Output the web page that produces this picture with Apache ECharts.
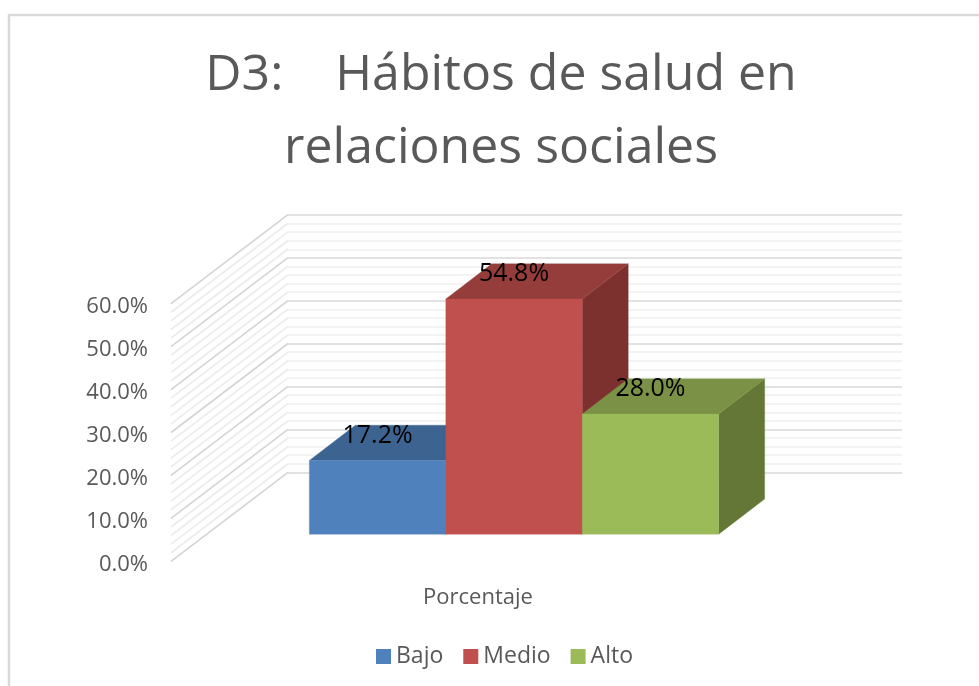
<!DOCTYPE html>
<html>
<head>
<meta charset="utf-8">
<style>html,body{margin:0;padding:0;background:#fff}#c{width:979px;height:686px}</style>
<script src="https://cdn.jsdelivr.net/npm/echarts@6/dist/echarts.min.js"></script>
</head>
<body>
<div id="c"></div>
<script>
const categories = ["Porcentaje"];
const seriesNames = ["Bajo", "Medio", "Alto"];
const bajo = [17.2];
const medio = [54.8];
const alto = [28.0];
const wallTicks = [0,2,4,6,8,10,12,14,16,18,20,22,24,26,28,30,32,34,36,38,40,42,44,46,48,50,52,54,56,58,60];

const FONT = '"Open Sans", sans-serif';
const TEXT = '#595959';
const faces = [
  {front:'#4f81bd', top:'#3d6491', side:'#345578'},
  {front:'#c0504d', top:'#953d3b', side:'#7d312f'},
  {front:'#9bbb59', top:'#7a9146', side:'#647736'}
];
// projection of depth in pixels
const GAP = [36, -27], BAR_DEPTH = [46, -35.3], WALL_DEPTH = [117, -89];
const BAR_FRACTION = 1 / 4.5;

function barItem(idx) {
  return function (params, api) {
    const cat = api.value(0), v = api.value(1);
    const top = api.coord([cat, v]);
    const base = api.coord([cat, 0]);
    const w = api.size([1, 0])[0] * BAR_FRACTION;
    const x0 = top[0] + GAP[0] + (idx - 1.5) * w;
    const x1 = x0 + w;
    const yT = top[1] + GAP[1];
    const yB = base[1] + GAP[1];
    const dx = BAR_DEPTH[0], dy = BAR_DEPTH[1];
    const c = faces[idx];
    const poly = (pts, fill) => ({type:'polygon', shape:{points:pts}, style:{fill:fill, stroke:fill, lineWidth:0.3}});
    return {
      type:'group',
      children:[
        poly([[x1,yT],[x1+dx,yT+dy],[x1+dx,yB+dy],[x1,yB]], c.side),
        poly([[x0,yT],[x1,yT],[x1+dx,yT+dy],[x0+dx,yT+dy]], c.top),
        poly([[x0,yT],[x1,yT],[x1,yB],[x0,yB]], c.front),
        {type:'text', z2:50, style:{x:(x0+x1)/2, y:yT-25, text:v.toFixed(1)+'%', fill:'#000', font:'25px '+FONT, align:'center', verticalAlign:'middle'}}
      ]
    };
  };
}

function barSeries(name, values, idx) {
  return {
    name:name, type:'custom', xAxisIndex:0, yAxisIndex:0, z:5+idx,
    itemStyle:{color:faces[idx].front},
    encode:{x:0, y:1},
    data:values.map((v,i)=>[i,v]),
    renderItem:barItem(idx),
    silent:true, clip:false
  };
}

const option = {
  animation:false,
  backgroundColor:'#fff',
  title:{
    text:'D3:    Hábitos de salud en\nrelaciones sociales',
    left:496, top:34, textAlign:'center',
    textStyle:{fontFamily:FONT, fontSize:50, fontWeight:'normal', color:TEXT, lineHeight:73}
  },
  legend:{
    data:seriesNames, left:371, top:640, itemWidth:15, itemHeight:15, itemGap:20, icon:'rect',
    textStyle:{fontFamily:FONT, fontSize:23, color:TEXT}, selectedMode:false
  },
  grid:[
    {left:171, top:303.7, width:614, height:257.6, containLabel:false},
    {left:288, top:215, width:614, height:257.3, containLabel:false},
    {left:171, top:307.2, width:614, height:257.6, containLabel:false}
  ],
  xAxis:[
    {type:'category', gridIndex:0, data:categories, axisLine:{show:false}, axisTick:{show:false},
     axisLabel:{fontFamily:FONT, fontSize:22, color:TEXT, margin:25}},
    {type:'category', gridIndex:1, data:categories, show:false},
    {type:'category', gridIndex:2, data:categories, show:false}
  ],
  yAxis:[
    {type:'value', gridIndex:0, min:0, max:60, interval:10, axisLine:{show:false}, axisTick:{show:false}, splitLine:{show:false}, axisLabel:{show:false}},
    {type:'value', gridIndex:1, min:0, max:60, interval:10, axisLine:{show:false}, axisTick:{show:false}, axisLabel:{show:false},
     splitLine:{show:true, lineStyle:{color:'#d9d9d9', width:1.5}},
     minorTick:{show:false, splitNumber:5},
     minorSplitLine:{show:true, lineStyle:{color:'#f0f0f0', width:1.5}}},
    {type:'value', gridIndex:2, min:0, max:60, interval:10, axisLine:{show:false}, axisTick:{show:false}, splitLine:{show:false},
     axisLabel:{fontFamily:FONT, fontSize:22, color:TEXT, margin:23, formatter:v=>v.toFixed(1)+'%'}}
  ],
  series:[
    {
      name:'wall', type:'custom', xAxisIndex:0, yAxisIndex:0, z:1, silent:true, clip:false,
      encode:{x:0, y:1},
      data:wallTicks.map(v=>[0,v]),
      renderItem:function(params, api){
        const v = api.value(1);
        const p = api.coord([0, v]);
        const x = p[0] - api.size([1,0])[0]/2;
        const major = v % 10 === 0;
        return {type:'line', shape:{x1:x, y1:p[1], x2:x+WALL_DEPTH[0], y2:p[1]+WALL_DEPTH[1]},
          style:{stroke: major ? '#d4d4d4' : '#ececec', lineWidth: major ? 1.6 : 1.7}};
      }
    },
    barSeries(seriesNames[0], bajo, 0),
    barSeries(seriesNames[1], medio, 1),
    barSeries(seriesNames[2], alto, 2)
  ],
  graphic:[
    {type:'polyline', silent:true, shape:{points:[[9,686],[9,15],[979,15]]}, style:{stroke:'#d9d9d9', lineWidth:2.5, fill:null}}
  ]
};
echarts.init(document.getElementById('c'), null, {renderer:'canvas'}).setOption(option);
</script>
</body>
</html>
